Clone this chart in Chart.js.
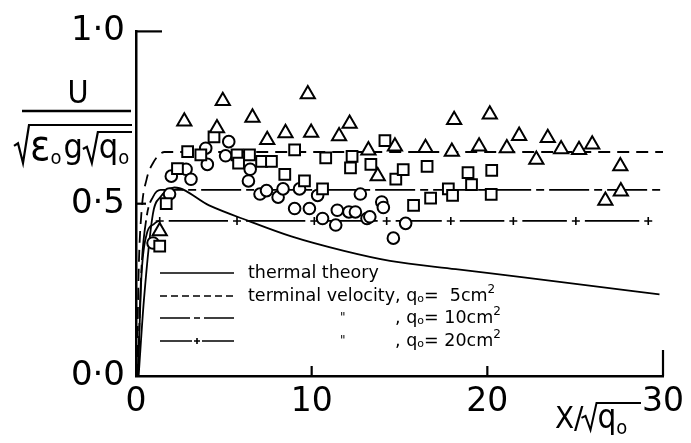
<!DOCTYPE html>
<html>
<head>
<meta charset="utf-8">
<title>Front velocity of a line thermal</title>
<script src="https://cdn.jsdelivr.net/npm/chart.js@4.4.1/dist/chart.umd.min.js"></script>
<style>
  html, body { margin: 0; padding: 0; background: #fff; }
  #wrap { width: 691px; height: 443px; }
</style>
</head>
<body>
<div id="wrap"><canvas id="plot" width="691" height="443"></canvas></div>
<script>
var FONT = "'DejaVu Sans', sans-serif";
var NARROW = "'DejaVu Sans Condensed', 'DejaVu Sans', sans-serif";

// axes
var xTicks = [0, 10, 20, 30];
var xTickLabels = ['0', '10', '20', '30'];
var yTicks = [0, 0.5, 1.0];
var yTickLabels = ['0·0', '0·5', '1·0'];

// measurements, q0 = 5cm2 (triangles)
var triX = [1.35, 2.75, 4.61, 4.94, 6.63, 7.47, 8.51, 9.78, 9.97, 11.56, 12.16, 13.23, 13.76, 14.74, 16.48,
            17.98, 18.11, 19.53, 20.14, 21.11, 21.81, 22.79, 23.44, 24.2, 25.22, 25.97, 27.57, 27.6, 26.72];
var triY = [0.42, 0.739, 0.719, 0.798, 0.75, 0.685, 0.705, 0.818, 0.706, 0.696, 0.732, 0.655, 0.58, 0.666, 0.662,
            0.651, 0.743, 0.666, 0.759, 0.661, 0.697, 0.628, 0.691, 0.658, 0.656, 0.672, 0.609, 0.536, 0.509];

// measurements, q0 = 10cm2 (squares)
var squareX = [1.35, 1.72, 2.36, 2.94, 3.69, 4.44, 5.75, 5.84, 6.46, 7.15, 7.71, 8.47, 9.03, 9.59, 10.62, 10.8,
               12.21, 12.3, 13.37, 14.17, 14.79, 15.21, 15.8, 16.57, 16.77, 17.78, 18.02, 18.9, 19.1, 20.25, 20.22];
var squareY = [0.377, 0.5, 0.602, 0.651, 0.642, 0.694, 0.642, 0.618, 0.642, 0.623, 0.623, 0.585, 0.656, 0.566, 0.543, 0.633,
               0.604, 0.637, 0.614, 0.683, 0.571, 0.599, 0.495, 0.608, 0.516, 0.543, 0.524, 0.59, 0.555, 0.597, 0.527];

// measurements, q0 = 20cm2 (circles)
var circleX = [0.97, 1.91, 2.01, 2.85, 3.13, 3.97, 4.06, 5.28, 5.1, 6.4, 6.5, 7.06, 7.43, 8.09, 8.37, 9.31,
               10.34, 9.03, 9.87, 10.62, 11.37, 11.46, 12.12, 12.49, 13.15, 12.77, 13.99, 14.08, 13.31, 15.35, 14.65];
var circleY = [0.386, 0.528, 0.58, 0.6, 0.571, 0.661, 0.614, 0.68, 0.639, 0.566, 0.6, 0.528, 0.538, 0.519, 0.543, 0.543,
               0.524, 0.486, 0.486, 0.457, 0.438, 0.481, 0.476, 0.476, 0.457, 0.528, 0.505, 0.489, 0.462, 0.443, 0.4];

// thermal theory curve
var thermalX = [0.15, 0.45, 0.96, 1.4, 1.8, 2.19, 4.16, 6.4, 8.84, 11.84, 14.46, 18.2, 21.95, 25.7, 29.8];
var thermalY = [0, 0.22, 0.47, 0.52, 0.54, 0.547, 0.495, 0.45, 0.405, 0.363, 0.334, 0.31, 0.287, 0.263, 0.237];

// terminal velocity curves
var tv5X = [0.05, 0.15, 0.32, 0.6, 0.97, 1.63, 2.5, 30];
var tv5Y = [0, 0.3, 0.48, 0.57, 0.618, 0.65, 0.65, 0.65];
var tv10X = [0.1, 0.3, 0.6, 0.97, 1.4, 2.0, 30];
var tv10Y = [0, 0.3, 0.46, 0.52, 0.54, 0.54, 0.54];
var tv20X = [0.12, 0.3, 0.6, 1.0, 1.35, 5.75, 10.15, 14.27, 17.92, 21.48, 25.04, 29.16];
var tv20Y = [0, 0.28, 0.41, 0.44, 0.45, 0.45, 0.45, 0.45, 0.45, 0.45, 0.45, 0.45];
var tv20FirstPlus = 4;

function pts(xs, ys) {
  return xs.map(function (x, i) { return { x: x, y: ys[i] }; });
}

// dash pattern that leaves a gap round each "+" mark
function plusGapDash(len) {
  var gap = 9;
  return [0, gap, Math.max(len - 2 * gap, 0), gap];
}

function subText(c, s, x, y, size) {
  c.font = size + 'px ' + NARROW;
  c.fillText(s, x, y);
  return x + c.measureText(s).width;
}

// radical sign with its overbar
function radical(c, x, y, h, endX) {
  c.beginPath();
  c.moveTo(x, y - h * 0.45);
  c.lineTo(x + 4, y - h * 0.52);
  c.lineTo(x + 9, y);
  c.lineTo(x + 15, y - h);
  c.lineTo(endX, y - h);
  c.stroke();
  return x + 16;
}

var axisTitles = {
  id: 'axisTitles',
  afterDraw: function (chart) {
    var c = chart.ctx;
    c.save();
    c.fillStyle = '#000';
    c.strokeStyle = '#000';
    c.textBaseline = 'alphabetic';

    // U / sqrt(eps0 g sqrt(q0))
    c.font = '32px ' + NARROW;
    c.textAlign = 'center';
    c.fillText('U', 78, 103);
    c.textAlign = 'left';
    c.lineWidth = 2.6;
    c.beginPath(); c.moveTo(22, 111); c.lineTo(131, 111); c.stroke();
    c.lineWidth = 2.2;
    var x = radical(c, 14, 163, 38, 132);
    x = subText(c, 'ε', x, 160, 42);
    x = subText(c, 'o', x, 164, 20);
    x = subText(c, 'g', x + 2, 158, 34);
    x = radical(c, x, 163, 31, 132);
    x = subText(c, 'q', x, 158, 34);
    subText(c, 'o', x, 164, 20);

    // X / sqrt(q0)
    x = subText(c, 'X', 555, 428, 31);
    x = subText(c, '/', x, 428, 31);
    c.lineWidth = 2;
    x = radical(c, x - 2, 430, 27, 641);
    x = subText(c, 'q', x, 428, 33);
    subText(c, 'o', x, 434, 20);
    c.restore();
  }
};

var tickMarks = {
  id: 'tickMarks',
  afterDraw: function (chart) {
    var c = chart.ctx, xs = chart.scales.x, ys = chart.scales.y;
    c.save();
    c.strokeStyle = '#000';
    c.lineWidth = 2.2;
    xTicks.forEach(function (v) {
      if (v === xs.min) return;
      var px = xs.getPixelForValue(v), len = v === xs.max ? 26 : 10;
      c.beginPath(); c.moveTo(px, ys.bottom); c.lineTo(px, ys.bottom - len); c.stroke();
    });
    yTicks.forEach(function (v) {
      if (v === ys.min) return;
      var py = ys.getPixelForValue(v), len = v === ys.max ? 26 : 10;
      c.beginPath(); c.moveTo(xs.left, py); c.lineTo(xs.left + len, py); c.stroke();
    });
    c.restore();
  }
};

var legendRows = {
  id: 'legendRows',
  afterDraw: function (chart) {
    var c = chart.ctx;
    var rows = [273, 296, 318, 341];
    var x0 = 160, x1 = 234, tx = 248;
    c.save();
    c.strokeStyle = '#000';
    c.fillStyle = '#000';
    c.lineWidth = 1.6;
    c.textBaseline = 'middle';

    c.setLineDash([]);
    c.beginPath(); c.moveTo(x0, rows[0]); c.lineTo(x1, rows[0]); c.stroke();
    c.setLineDash([7, 4]);
    c.beginPath(); c.moveTo(x0, rows[1]); c.lineTo(x1, rows[1]); c.stroke();
    c.setLineDash([30, 4, 6, 4]);
    c.beginPath(); c.moveTo(x0, rows[2]); c.lineTo(x1, rows[2]); c.stroke();
    c.setLineDash([]);
    var mid = (x0 + x1) / 2;
    c.beginPath();
    c.moveTo(x0, rows[3]); c.lineTo(mid - 5, rows[3]);
    c.moveTo(mid + 5, rows[3]); c.lineTo(x1, rows[3]);
    c.moveTo(mid - 3, rows[3]); c.lineTo(mid + 3, rows[3]);
    c.moveTo(mid, rows[3] - 3); c.lineTo(mid, rows[3] + 3);
    c.stroke();

    function line(parts, x, y) {
      parts.forEach(function (p) {
        c.font = p[1] + 'px ' + FONT;
        c.fillText(p[0], x, y + (p[2] || 0));
        x += c.measureText(p[0]).width;
      });
      return x;
    }
    line([['thermal theory', 17.5]], tx, rows[0]);
    var qx = line([['terminal velocity, ', 17.5]], tx, rows[1]);
    line([['q', 17.5], ['o', 11, 3], ['=  5cm', 17.5], ['2', 12, -6]], qx, rows[1]);
    [[rows[2], '= 10cm'], [rows[3], '= 20cm']].forEach(function (r) {
      line([['"', 12]], 340, r[0]);
      c.font = '17.5px ' + FONT;
      var w = c.measureText(', ').width;
      line([[', ', 17.5], ['q', 17.5], ['o', 11, 3], [r[1], 17.5], ['2', 12, -6]], qx - w, r[0]);
    });
    c.restore();
  }
};

var lineBase = {
  showLine: true,
  borderColor: '#000',
  borderWidth: 1.8,
  pointRadius: 0,
  fill: false,
  cubicInterpolationMode: 'monotone',
  order: 3
};

function markers(label, xs, ys, style, radius) {
  return {
    label: label,
    data: pts(xs, ys),
    showLine: false,
    pointStyle: style,
    pointRadius: radius,
    pointBorderColor: '#000',
    pointBackgroundColor: '#fff',
    pointBorderWidth: 2,
    order: 1
  };
}

var chart = new Chart(document.getElementById('plot'), {
  type: 'scatter',
  data: {
    datasets: [
      Object.assign({ label: 'thermal theory', data: pts(thermalX, thermalY) }, lineBase),
      Object.assign({ label: 'terminal velocity, q0 = 5cm2', data: pts(tv5X, tv5Y), borderDash: [12, 7] }, lineBase),
      Object.assign({ label: 'terminal velocity, q0 = 10cm2', data: pts(tv10X, tv10Y), borderDash: [40, 5, 8, 5] }, lineBase),
      Object.assign({}, lineBase, {
        label: 'terminal velocity, q0 = 20cm2',
        data: pts(tv20X, tv20Y),
        pointStyle: 'cross',
        pointRadius: function (ctx) { return ctx.dataIndex >= tv20FirstPlus ? 4 : 0; },
        pointBorderWidth: 1.6,
        pointBorderColor: '#000',
        segment: {
          borderDash: function (ctx) {
            return ctx.p0DataIndex >= tv20FirstPlus ? plusGapDash(ctx.p1.x - ctx.p0.x) : [];
          }
        }
      }),
      markers('q0 = 5cm2', triX, triY, 'triangle', 8.2),
      markers('q0 = 10cm2', squareX, squareY, 'rect', 7.6),
      markers('q0 = 20cm2', circleX, circleY, 'circle', 5.8)
    ]
  },
  options: {
    responsive: false,
    animation: false,
    devicePixelRatio: 1,
    events: [],
    layout: { autoPadding: false, padding: { top: 24, right: 19, bottom: 0, left: 0 } },
    plugins: { legend: { display: false }, tooltip: { enabled: false } },
    scales: {
      x: {
        type: 'linear', min: 0, max: 30,
        afterFit: function (s) { s.height = 67; },
        afterBuildTicks: function (s) { s.ticks = xTicks.map(function (v) { return { value: v }; }); },
        ticks: {
          callback: function (v, i) { return xTickLabels[i]; },
          padding: 7, color: '#000', maxRotation: 0, autoSkip: false,
          font: { family: FONT, size: 33 }
        },
        grid: { display: false, drawTicks: false },
        border: { display: true, color: '#000', width: 2.5 }
      },
      y: {
        type: 'linear', min: 0, max: 1,
        afterFit: function (s) { s.width = 136; },
        afterBuildTicks: function (s) { s.ticks = yTicks.map(function (v) { return { value: v }; }); },
        ticks: {
          callback: function (v, i) { return yTickLabels[i]; },
          padding: 11, color: '#000', autoSkip: false,
          font: { family: FONT, size: 34 }
        },
        grid: { display: false, drawTicks: false },
        border: { display: true, color: '#000', width: 2.5 }
      }
    }
  },
  plugins: [tickMarks, legendRows, axisTitles]
});
</script>
</body>
</html>
